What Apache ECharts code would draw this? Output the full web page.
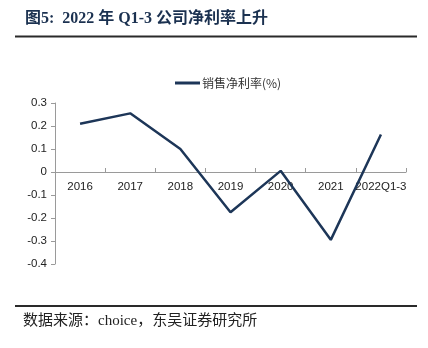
<!DOCTYPE html>
<html>
<head>
<meta charset="utf-8">
<script src="https://cdn.jsdelivr.net/npm/echarts@6/dist/echarts.min.js"></script>
<style>
  html, body { margin: 0; padding: 0; background: #fff; }
  #chart { width: 428px; height: 348px; }
</style>
</head>
<body>
<div id="chart"></div>
<script>
// Net profit margin by period
const categories = ['2016', '2017', '2018', '2019', '2020', '2021', '2022Q1-3'];
const netMargin = [0.21, 0.255, 0.10, -0.175, 0.005, -0.295, 0.163];
const yTicks = { min: -0.4, max: 0.3, interval: 0.1 };

const seriesName = '销售净利率(%)';
const titleText = '图5:  2022 年 Q1-3 公司净利率上升';
const sourceText = '数据来源：choice，东吴证券研究所';

const chart = echarts.init(document.getElementById('chart'), null, { renderer: 'canvas' });

const axisGray = '#9a9a9a';
const lineColor = '#1d3658';

chart.setOption({
  backgroundColor: '#ffffff',
  animation: false,
  graphic: [
    {
      type: 'text', left: 25, top: 11,
      style: {
        text: titleText,
        font: 'bold 16px "Liberation Serif", "Noto Sans CJK SC", serif',
        fill: '#1b3150'
      }
    },
    {
      type: 'line',
      shape: { x1: 15, y1: 36.5, x2: 417, y2: 36.5 },
      style: { stroke: '#2a2a2a', lineWidth: 2 }
    },
    {
      type: 'line',
      shape: { x1: 15, y1: 306, x2: 417, y2: 306 },
      style: { stroke: '#2a2a2a', lineWidth: 2 }
    },
    {
      type: 'text', left: 23, top: 314,
      style: {
        text: sourceText,
        font: '15px "Liberation Serif", "Noto Sans CJK SC", serif',
        fill: '#222222'
      }
    }
  ],
  legend: {
    top: 77,
    left: 175,
    padding: 0,
    itemWidth: 25,
    itemHeight: 3,
    itemGap: 4,
    icon: 'rect',
    textStyle: { fontSize: 12, color: '#333', padding: [0, 0, 0, -3], fontFamily: '"Noto Sans CJK SC", sans-serif' },
    data: [seriesName]
  },
  grid: { left: 55, right: 22, top: 103, bottom: 84, containLabel: false },
  xAxis: {
    type: 'category',
    data: categories,
    boundaryGap: true,
    position: 'bottom',
    offset: 0,
    axisLine: { onZero: false, lineStyle: { color: axisGray, width: 1 } },
    axisTick: { show: true, inside: true, length: 4, lineStyle: { color: axisGray } },
    axisLabel: {
      color: '#222', fontSize: 11.5, margin: 9,
      fontFamily: '"Liberation Sans", Arial, sans-serif',
      interval: 0
    }
  },
  yAxis: {
    type: 'value',
    min: yTicks.min,
    max: yTicks.max,
    interval: yTicks.interval,
    splitLine: { show: false },
    axisLine: { show: true, lineStyle: { color: axisGray, width: 1 } },
    axisTick: { show: true, length: 4, lineStyle: { color: axisGray } },
    axisLabel: {
      color: '#222', fontSize: 11.5, margin: 8,
      fontFamily: '"Liberation Sans", Arial, sans-serif',
      formatter: v => {
        const r = Math.round(v * 10) / 10;
        return r === 0 ? '0' : String(r);
      }
    }
  },
  series: [{
    name: seriesName,
    type: 'line',
    data: netMargin,
    symbol: 'none',
    lineStyle: { color: lineColor, width: 2.5 },
    itemStyle: { color: lineColor }
  }]
});

// Lift the category axis (line, ticks and labels together) up to the y = 0 level
const zeroY = chart.convertToPixel({ yAxisIndex: 0 }, 0);
const bottomY = chart.convertToPixel({ yAxisIndex: 0 }, yTicks.min);
chart.setOption({ xAxis: { offset: -(bottomY - zeroY) } });
</script>
</body>
</html>
